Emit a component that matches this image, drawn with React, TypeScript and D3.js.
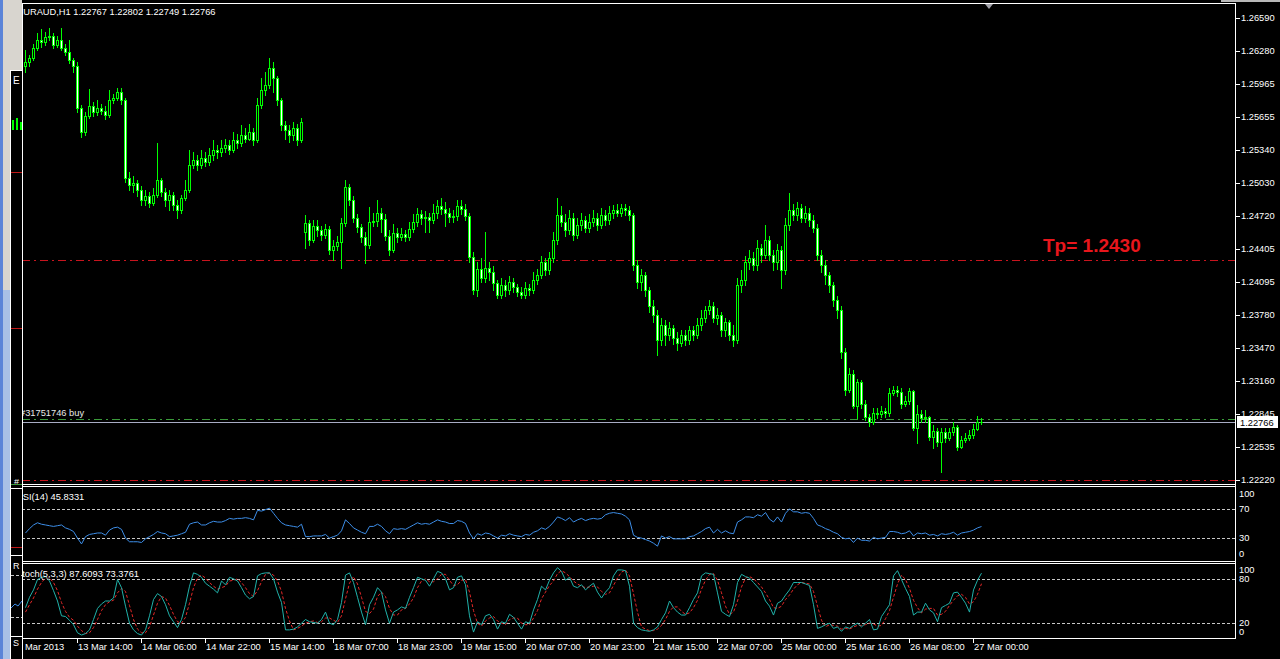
import React from 'react';
import * as d3 from 'd3';

// ---------- DATA (EURAUD H1, one value per bar) ----------
const closes = [
1.2617,1.2621,1.2631,1.2638,1.2636,1.2641,1.2642,1.2633,1.2638,1.2631,
1.2627,1.2619,1.2614,1.2574,1.2551,1.2566,1.2576,1.2570,1.2574,1.2571,
1.2567,1.2581,1.2583,1.2589,1.2581,1.2508,1.2501,1.2503,1.2496,1.2487,
1.2491,1.2484,1.2492,1.2506,1.2494,1.2487,1.2492,1.2482,1.2477,1.2489,
1.2496,1.2520,1.2525,1.2520,1.2527,1.2523,1.2529,1.2534,1.2532,1.2536,
1.2539,1.2534,1.2544,1.2541,1.2548,1.2545,1.2551,1.2544,1.2577,1.2591,
1.2596,1.2612,1.2602,1.2581,1.2558,1.2553,1.2548,1.2555,1.2544,1.2561,
1.2465,1.2449,1.2462,1.2458,1.2454,1.2459,1.2440,1.2443,1.2447,1.2465,
1.2499,1.2487,1.2470,1.2461,1.2452,1.2444,1.2466,1.2467,1.2475,1.2469,
1.2453,1.2440,1.2456,1.2452,1.2455,1.2452,1.2459,1.2466,1.2474,1.2470,
1.2471,1.2468,1.2475,1.2481,1.2478,1.2475,1.2471,1.2472,1.2481,1.2478,
1.2472,1.2433,1.2402,1.2422,1.2413,1.2423,1.2419,1.2408,1.2397,1.2406,
1.2402,1.2409,1.2405,1.2400,1.2397,1.2404,1.2402,1.2411,1.2416,1.2428,
1.2421,1.2432,1.2449,1.2473,1.2466,1.2458,1.2470,1.2454,1.2463,1.2468,
1.2460,1.2466,1.2470,1.2463,1.2473,1.2468,1.2475,1.2477,1.2475,1.2479,
1.2477,1.2473,1.2425,1.2409,1.2416,1.2402,1.2387,1.2378,1.2354,1.2369,
1.2359,1.2366,1.2356,1.2352,1.2359,1.2354,1.2364,1.2359,1.2369,1.2375,
1.2383,1.2387,1.2375,1.2378,1.2364,1.2371,1.2359,1.2354,1.2406,1.2411,
1.2428,1.2432,1.2425,1.2441,1.2435,1.2449,1.2435,1.2428,1.2440,1.2421,
1.2463,1.2477,1.2473,1.2479,1.2470,1.2475,1.2468,1.2460,1.2435,1.2425,
1.2416,1.2406,1.2392,1.2383,1.2343,1.2307,1.2322,1.2292,1.2315,1.2294,
1.2282,1.2277,1.2285,1.2284,1.2287,1.2285,1.2304,1.2307,1.2305,1.2294,
1.2297,1.2306,1.2271,1.2284,1.2281,1.2282,1.2263,1.2268,1.2258,1.2267,
1.2262,1.2267,1.2272,1.2253,1.2260,1.2262,1.2265,1.2270,1.22767,1.22766
];
const highs = [
1.2629,1.2624,1.2634,1.2645,1.2649,1.2646,1.2650,1.2645,1.2642,1.2650,
1.2634,1.2638,1.2621,1.2617,1.2577,1.2570,1.2592,1.2580,1.2581,1.2578,
1.2576,1.2591,1.2587,1.2593,1.2593,1.2583,1.2513,1.2510,1.2506,1.2500,
1.2496,1.2494,1.2498,1.2541,1.2508,1.2498,1.2496,1.2494,1.2487,1.2492,
1.2506,1.2534,1.2532,1.2529,1.2534,1.2532,1.2536,1.2544,1.2539,1.2544,
1.2545,1.2544,1.2551,1.2549,1.2558,1.2555,1.2559,1.2555,1.2583,1.2602,
1.2608,1.2621,1.2617,1.2604,1.2583,1.2562,1.2558,1.2561,1.2559,1.2564,
1.2473,1.2468,1.2468,1.2468,1.2462,1.2464,1.2462,1.2449,1.2453,1.2470,
1.2506,1.2502,1.2491,1.2474,1.2464,1.2457,1.2480,1.2475,1.2487,1.2479,
1.2474,1.2458,1.2464,1.2460,1.2460,1.2458,1.2466,1.2474,1.2479,1.2477,
1.2476,1.2475,1.2483,1.2487,1.2489,1.2485,1.2479,1.2477,1.2487,1.2487,
1.2483,1.2475,1.2438,1.2428,1.2432,1.2457,1.2428,1.2424,1.2411,1.2413,
1.2411,1.2415,1.2413,1.2407,1.2405,1.2409,1.2407,1.2419,1.2422,1.2434,
1.2432,1.2438,1.2457,1.2489,1.2481,1.2474,1.2477,1.2475,1.2470,1.2475,
1.2472,1.2474,1.2477,1.2475,1.2479,1.2477,1.2481,1.2482,1.2483,1.2483,
1.2483,1.2481,1.2475,1.2430,1.2422,1.2419,1.2405,1.2392,1.2383,1.2375,
1.2373,1.2371,1.2369,1.2362,1.2364,1.2364,1.2368,1.2368,1.2375,1.2383,
1.2387,1.2392,1.2390,1.2385,1.2381,1.2375,1.2373,1.2369,1.2413,1.2421,
1.2434,1.2440,1.2438,1.2449,1.2445,1.2463,1.2453,1.2440,1.2445,1.2443,
1.2470,1.2493,1.2483,1.2485,1.2483,1.2481,1.2479,1.2473,1.2464,1.2440,
1.2430,1.2419,1.2409,1.2396,1.2387,1.2347,1.2328,1.2326,1.2318,1.2317,
1.2298,1.2284,1.2290,1.2290,1.2292,1.2290,1.2309,1.2311,1.2311,1.2309,
1.2301,1.2309,1.2307,1.2293,1.2288,1.2288,1.2283,1.2274,1.2271,1.2271,
1.2271,1.2271,1.2277,1.2274,1.2264,1.2266,1.2269,1.2275,1.2283,1.22802
];
const lows = [
1.2608,1.2614,1.2619,1.2629,1.2632,1.2633,1.2638,1.2631,1.2632,1.2629,
1.2624,1.2616,1.2608,1.2570,1.2546,1.2548,1.2564,1.2566,1.2567,1.2568,
1.2563,1.2565,1.2579,1.2581,1.2578,1.2504,1.2496,1.2494,1.2491,1.2482,
1.2482,1.2480,1.2482,1.2490,1.2491,1.2481,1.2477,1.2477,1.2470,1.2475,
1.2487,1.2494,1.2517,1.2515,1.2517,1.2519,1.2520,1.2525,1.2527,1.2528,
1.2532,1.2530,1.2532,1.2536,1.2538,1.2542,1.2544,1.2539,1.2542,1.2574,
1.2586,1.2593,1.2589,1.2577,1.2553,1.2545,1.2542,1.2544,1.2539,1.2542,
1.2441,1.2444,1.2447,1.2453,1.2449,1.2451,1.2436,1.2430,1.2440,1.2423,
1.2462,1.2482,1.2466,1.2457,1.2447,1.2427,1.2441,1.2462,1.2462,1.2457,
1.2449,1.2435,1.2438,1.2447,1.2449,1.2448,1.2449,1.2457,1.2462,1.2464,
1.2457,1.2457,1.2465,1.2470,1.2474,1.2462,1.2466,1.2466,1.2468,1.2474,
1.2468,1.2428,1.2398,1.2396,1.2409,1.2409,1.2411,1.2402,1.2394,1.2394,
1.2396,1.2398,1.2400,1.2396,1.2394,1.2394,1.2397,1.2399,1.2407,1.2413,
1.2416,1.2417,1.2428,1.2445,1.2462,1.2453,1.2455,1.2449,1.2451,1.2458,
1.2457,1.2457,1.2462,1.2458,1.2460,1.2463,1.2464,1.2470,1.2472,1.2472,
1.2473,1.2468,1.2421,1.2404,1.2402,1.2396,1.2381,1.2371,1.2340,1.2350,
1.2350,1.2354,1.2351,1.2345,1.2349,1.2350,1.2351,1.2354,1.2356,1.2364,
1.2371,1.2379,1.2371,1.2370,1.2358,1.2358,1.2354,1.2349,1.2352,1.2400,
1.2406,1.2422,1.2421,1.2421,1.2428,1.2432,1.2430,1.2421,1.2422,1.2404,
1.2417,1.2458,1.2468,1.2468,1.2466,1.2466,1.2462,1.2457,1.2430,1.2419,
1.2407,1.2400,1.2387,1.2375,1.2337,1.2302,1.2305,1.2290,1.2281,1.2290,
1.2279,1.2273,1.2275,1.2281,1.2282,1.2282,1.2283,1.2302,1.2301,1.2290,
1.2292,1.2294,1.2269,1.2257,1.2277,1.2277,1.2260,1.2252,1.2254,1.2230,
1.2258,1.2260,1.2265,1.2250,1.2252,1.2258,1.2260,1.2262,1.2269,1.22749
];
// opens follow the previous close, except at session starts
const sessionOpens = [
  { bar: 0, open: 1.2614 },
  { bar: 70, open: 1.2457 },
];

const rsi = [
37,43,48,51,49,48,47,46,47,48,44,42,39,30,22,32,35,36,37,37,
34,41,44,45,42,30,25,25,25,24,29,32,35,39,37,36,32,33,34,36,
38,49,51,52,48,48,51,53,52,52,54,57,56,57,57,58,57,55,68,67,
69,71,64,57,51,48,47,46,45,49,32,32,33,33,33,35,30,32,34,40,
55,50,44,41,38,36,46,46,49,46,40,36,43,42,43,42,45,48,51,49,
50,49,52,55,53,52,50,50,54,53,50,37,29,36,34,37,36,33,30,34,
33,36,34,33,32,35,34,38,40,44,42,46,52,59,57,54,58,52,55,57,
54,56,57,56,57,62,64,65,64,63,60,55,34,31,30,28,26,23,19,33,
30,32,29,29,29,29,32,33,36,39,43,45,37,42,37,40,37,36,52,55,
59,59,58,62,60,65,56,52,59,52,64,70,66,66,64,65,64,57,48,46,
43,41,38,36,31,29,30,24,30,27,27,26,31,29,30,31,39,39,38,36,
37,40,33,37,36,37,34,35,33,36,35,36,38,34,37,38,39,41,44,45.8331
];
const stochMain = [
41,55,65,79,82,83,77,64,50,30,29,24,18,7,4,6,11,25,40,46,
50,50,54,79,68,43,20,11,6,4,11,30,52,60,56,45,30,22,14,25,
45,70,88,86,82,74,70,66,61,77,72,82,80,77,68,58,53,56,84,87,
88,88,80,62,48,11,11,12,15,20,25,22,21,20,25,35,20,18,25,48,
85,88,75,55,35,18,45,55,68,62,38,20,35,38,42,40,55,68,82,80,
78,70,80,90,88,80,65,68,82,84,72,30,8,22,18,30,32,25,12,22,
20,32,28,20,12,22,20,38,52,70,65,78,88,95,90,78,82,70,68,72,
65,70,74,62,54,62,68,84,92,92,91,70,20,14,11,10,9,11,15,25,
34,50,41,35,31,31,41,52,61,84,88,87,86,61,36,32,29,45,75,86,
83,81,75,69,63,50,43,31,47,50,58,65,75,75,75,73,71,45,13,15,
18,20,13,15,9,15,13,17,20,15,20,25,11,12,29,37,45,84,91,79,
67,56,31,35,35,47,38,34,22,41,44,47,61,62,55,47,35,65,78,87.6093
];
const stochSignal = [
35,45,54,66,75,81,81,75,64,48,36,28,24,16,10,6,7,14,25,37,
45,49,51,61,67,63,44,25,12,7,7,15,31,47,56,54,44,32,22,20,
28,47,68,81,85,81,75,70,66,68,70,77,78,80,75,68,60,56,64,76,
86,88,85,77,63,40,23,11,13,16,20,22,23,21,22,27,27,24,21,30,
53,74,83,73,55,36,33,39,56,62,56,40,31,31,38,40,46,54,68,77,
80,76,76,80,86,86,78,71,72,78,79,62,37,20,16,23,27,29,23,20,
18,25,27,27,20,18,18,27,37,53,62,71,77,87,91,88,83,77,73,70,
68,69,70,69,63,59,61,71,81,89,92,84,60,35,15,12,10,10,12,17,
25,36,42,42,36,32,34,41,51,66,78,86,87,78,61,43,32,35,50,69,
81,83,80,75,69,61,52,41,40,43,52,58,66,72,75,74,73,63,43,24,
15,18,17,16,12,13,12,15,17,17,18,20,19,16,17,26,37,55,73,85,
79,67,51,41,34,39,40,40,31,32,36,44,51,57,59,55,46,49,59,73.3761
];

const priceTicks = [1.26590,1.26280,1.25965,1.25655,1.25340,1.25030,1.24720,1.24405,1.24095,1.23780,1.23470,1.23160,1.22845,1.22535,1.22220];
const timeLabels = ["13 Mar 14:00","14 Mar 06:00","14 Mar 22:00","15 Mar 14:00","18 Mar 07:00","18 Mar 23:00","19 Mar 15:00","20 Mar 07:00","20 Mar 23:00","21 Mar 15:00","22 Mar 07:00","25 Mar 00:00","25 Mar 16:00","26 Mar 08:00","27 Mar 00:00"];
const timeLabelBars = [13,29,45,61,77,93,109,125,141,157,173,189,205,221,237];
const firstDateLabel = "Mar 2013";

const symbolHeader = "EURAUD,H1  1.22767 1.22802 1.22749 1.22766";
const rsiName = "RSI(14) 45.8331";
const stochName = "Stoch(5,3,3) 87.6093 73.3761";
const orderLabel = "#31751746 buy";
const tpLabel = "Tp= 1.2430";
const tpPrice = 1.2430;
const orderPrice = 1.2280;
const slPrice = 1.2222;
const bidPrice = 1.22766;
const bidText = "1.22766";

const rsiLevels = [70, 30];
const rsiScaleLabels = [100, 70, 30, 0];
const stochLevels = [80, 20];
const stochScaleLabels = [100, 80, 20, 0];

const FONT = "'Liberation Sans', Arial, sans-serif";
const FS = 9.3;
const LIME = '#00ff00';

export default function App() {
  React.useEffect(() => {
    document.body.style.margin = '0';
    document.body.style.background = '#000';
    document.body.style.overflow = 'hidden';
  }, []);

  const n = closes.length;
  const X = d3.scaleLinear().domain([0, n - 1]).range([25, 25 + 4 * (n - 1)]);
  const Y = d3.scaleLinear().domain([1.2222, 1.2659]).range([480, 18]);
  const RY = d3.scaleLinear().domain([0, 100]).range([560, 487]);
  const SY = d3.scaleLinear().domain([0, 100]).range([638, 564]);

  const opens = closes.map((c, i) => {
    const s = sessionOpens.find(o => o.bar === i);
    return s ? s.open : closes[i - 1];
  });

  const lineR = d3.line<number>().x((_, i) => X(i) + 0.5).y(v => RY(v));
  const lineS = d3.line<number>().x((_, i) => X(i) + 0.5).y(v => SY(v));

  const L = 22, R = 1235;

  return (
    <svg width={1280} height={659} style={{ position: 'fixed', left: 0, top: 0, background: '#000' }} fontFamily={FONT}>
      <defs>
        <clipPath id="mainClip"><rect x={L + 1} y={4} width={R - L - 1} height={480} /></clipPath>
        <clipPath id="rsiClip"><rect x={L + 1} y={487} width={R - L - 1} height={74} /></clipPath>
        <clipPath id="stClip"><rect x={L + 1} y={564} width={R - L - 1} height={74} /></clipPath>
      </defs>
      <rect x={0} y={0} width={1280} height={659} fill="#000" />

      {/* main chart */}
      <g clipPath="url(#mainClip)">
        <line x1={L} x2={R} y1={Math.round(Y(tpPrice)) + 0.5} y2={Math.round(Y(tpPrice)) + 0.5} stroke="#c8141e" strokeDasharray="8,4,2,4" />
        <line x1={L} x2={R} y1={Math.round(Y(orderPrice)) + 0.5} y2={Math.round(Y(orderPrice)) + 0.5} stroke="#3a9a3a" strokeDasharray="8,4,2,4" />
        <line x1={L} x2={R} y1={Math.round(Y(slPrice)) + 0.5} y2={Math.round(Y(slPrice)) + 0.5} stroke="#c8141e" strokeDasharray="8,4,2,4" />
        <line x1={L} x2={R} y1={Math.round(Y(bidPrice)) + 0.5} y2={Math.round(Y(bidPrice)) + 0.5} stroke="#a8acc4" />
        <text x={20} y={Math.round(Y(orderPrice)) - 3} fill="#e8e8e8" fontSize={FS}>{orderLabel}</text>

        <g shapeRendering="crispEdges">
          {closes.map((c, i) => {
            const o = opens[i];
            const cx = Math.round(X(i));
            const hi = Math.max(highs[i], o, c);
            const lo = Math.min(lows[i], o, c);
            const top = Math.round(Y(Math.max(o, c)));
            const bot = Math.round(Y(Math.min(o, c)));
            const bull = c > o;
            return (
              <g key={i}>
                <rect x={cx} y={Math.round(Y(hi))} width={1} height={Math.max(1, Math.round(Y(lo)) - Math.round(Y(hi)) + 1)} fill={LIME} />
                <rect x={cx - 1} y={top} width={3} height={Math.max(1, bot - top + 1)} fill={LIME} />
                {bot - top >= 2 && (
                  <rect x={cx} y={top + 1} width={1} height={bot - top - 1} fill={bull ? '#000' : '#ffffff'} />
                )}
              </g>
            );
          })}
        </g>
        <text x={1043} y={252} fill="#e8161c" fontSize={19} fontWeight="bold">{tpLabel}</text>
      </g>
      <text x={17} y={15} fill="#fff" fontSize={FS}>{symbolHeader}</text>

      {/* chart shift marker */}
      <path d={`M${X(n - 1) + 4},4 L${X(n - 1) + 12},4 L${X(n - 1) + 8},9 Z`} fill="#a0a0a8" />

      {/* RSI */}
      <g clipPath="url(#rsiClip)">
        {rsiLevels.map(v => (
          <line key={v} x1={L} x2={R} y1={Math.round(RY(v)) + 0.5} y2={Math.round(RY(v)) + 0.5} stroke="#c8c8c8" strokeDasharray="3,2" />
        ))}
        <path d={lineR(rsi) || ''} fill="none" stroke="#3d8ee8" strokeWidth={1} />
      </g>
      <text x={16} y={500} fill="#fff" fontSize={FS}>{rsiName}</text>

      {/* Stochastic */}
      <g clipPath="url(#stClip)">
        {stochLevels.map(v => (
          <line key={v} x1={L} x2={R} y1={Math.round(SY(v)) + 0.5} y2={Math.round(SY(v)) + 0.5} stroke="#c8c8c8" strokeDasharray="3,2" />
        ))}
        <path d={lineS(stochSignal) || ''} fill="none" stroke="#e62828" strokeDasharray="3,2" strokeWidth={1} />
        <path d={lineS(stochMain) || ''} fill="none" stroke="#20b2aa" strokeWidth={1} />
      </g>
      <text x={16} y={577} fill="#fff" fontSize={FS}>{stochName}</text>

      {/* frames */}
      <g stroke="#fff" strokeWidth={1} shapeRendering="crispEdges">
        <line x1={L} x2={R + 1} y1={3.5} y2={3.5} />
        <line x1={L + 0.5} x2={L + 0.5} y1={3} y2={659} />
        <line x1={R + 0.5} x2={R + 0.5} y1={3} y2={639} />
        <line x1={L} x2={R + 1} y1={484.5} y2={484.5} />
        <line x1={L} x2={R + 1} y1={486.5} y2={486.5} />
        <line x1={L} x2={R + 1} y1={561.5} y2={561.5} />
        <line x1={L} x2={R + 1} y1={563.5} y2={563.5} />
        <line x1={L} x2={R + 1} y1={638.5} y2={638.5} />
      </g>

      {/* price axis */}
      {priceTicks.map(v => {
        const y = Math.round(Y(v));
        return (
          <g key={v}>
            <line x1={1236} x2={1240} y1={y + 0.5} y2={y + 0.5} stroke="#fff" />
            <text x={1241} y={y + 3} fill="#fff" fontSize={FS}>{v.toFixed(5)}</text>
          </g>
        );
      })}
      <rect x={1237} y={Math.round(Y(bidPrice)) - 6} width={41} height={12} fill="#fff" />
      <text x={1240} y={Math.round(Y(bidPrice)) + 4} fill="#000" fontSize={FS}>{bidText}</text>

      {rsiScaleLabels.map(v => (
        <text key={v} x={1239} y={Math.min(557, Math.max(496.5, RY(v) + 3))} fill="#fff" fontSize={FS}>{v}</text>
      ))}
      {stochScaleLabels.map(v => (
        <text key={v} x={1239} y={Math.min(635, Math.max(573, SY(v) + 3))} fill="#fff" fontSize={FS}>{v}</text>
      ))}

      {/* time axis */}
      <text x={25} y={650} fill="#fff" fontSize={FS}>{firstDateLabel}</text>
      {timeLabels.map((t, k) => {
        const x = Math.round(X(timeLabelBars[k]));
        return (
          <g key={t}>
            <line x1={x + 0.5} x2={x + 0.5} y1={639} y2={643} stroke="#fff" />
            <text x={x + 1} y={650} fill="#fff" fontSize={FS}>{t}</text>
          </g>
        );
      })}

      {/* top right strip */}
      <rect x={1221} y={0} width={59} height={2} fill="#b8b8b8" />

      {/* background window at the left */}
      <g shapeRendering="crispEdges">
        <rect x={0} y={0} width={22} height={659} fill="#d8d5cf" />
        <rect x={0} y={0} width={3} height={659} fill="#5b84d8" />
        <rect x={3} y={290} width={7} height={369} fill="#a9c0e6" />
        <rect x={10} y={70} width={12} height={589} fill="#000" />
        <line x1={10.5} x2={10.5} y1={70} y2={659} stroke="#fff" />
        <line x1={10} x2={22} y1={70.5} y2={70.5} stroke="#fff" />
        <text x={13} y={84} fill="#fff" fontSize={10}>E</text>
        <rect x={12} y={120} width={2} height={10} fill={LIME} />
        <rect x={16} y={118} width={2} height={12} fill={LIME} />
        <rect x={20} y={122} width={2} height={8} fill={LIME} />
        <line x1={11} x2={22} y1={172.5} y2={172.5} stroke="#c01818" />
        <line x1={11} x2={22} y1={328.5} y2={328.5} stroke="#c01818" />
        <text x={14} y={485} fill="#fff" fontSize={9}>#</text>
        <line x1={11} x2={22} y1={484.5} y2={484.5} stroke="#3a9a3a" />
        <line x1={11} x2={22} y1={488.5} y2={488.5} stroke="#fff" />
        <line x1={11} x2={22} y1={547.5} y2={547.5} stroke="#c01818" />
        <line x1={11} x2={22} y1={555.5} y2={555.5} stroke="#fff" />
        <text x={13} y={569} fill="#fff" fontSize={9}>R</text>
        <line x1={11} x2={22} y1={575.5} y2={575.5} stroke="#c8c8c8" strokeDasharray="3,2" />
        <line x1={11} x2={22} y1={617.5} y2={617.5} stroke="#c8c8c8" strokeDasharray="3,2" />
        <line x1={11} x2={22} y1={636.5} y2={636.5} stroke="#fff" />
        <text x={13} y={646} fill="#fff" fontSize={9}>S</text>
      </g>
      <path d="M11,608 L15,604 L18,606 L22,601" fill="none" stroke="#3d8ee8" />
    </svg>
  );
}
